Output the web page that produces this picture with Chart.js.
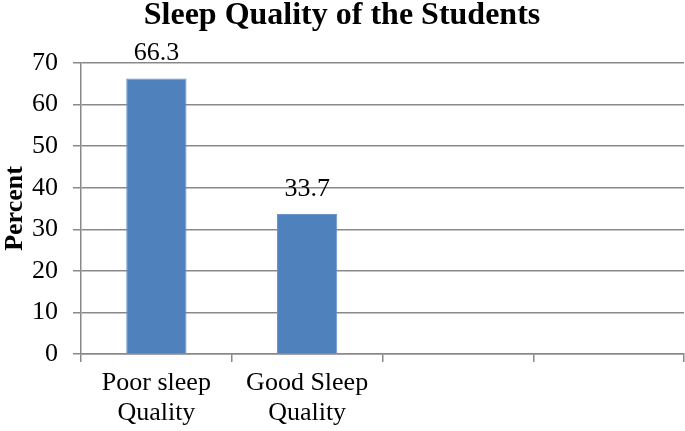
<!DOCTYPE html>
<html>
<head>
<meta charset="utf-8">
<title>Sleep Quality of the Students</title>
<script src="https://cdn.jsdelivr.net/npm/chart.js@4.4.1/dist/chart.umd.min.js"></script>
<style>
    body { margin: 0; background: #fff; }
    #wrap { width: 685px; height: 431px; }
</style>
</head>
<body>
<div id="wrap"><canvas id="sleepChart"></canvas></div>
<script>
const categories = [["Poor sleep", "Quality"], ["Good Sleep", "Quality"], "", ""];
const percents = [66.3, 33.7, null, null];
const valueLabels = ["66.3", "33.7", "", ""];
const yTicks = [0, 10, 20, 30, 40, 50, 60, 70];

const serif = "'Liberation Serif', 'Times New Roman', serif";
const gridGray = "#898989";

// writes the value above each bar
const barValues = {
    id: "barValues",
    afterDatasetsDraw(chart) {
        const ctx = chart.ctx;
        const meta = chart.getDatasetMeta(0);
        ctx.save();
        ctx.font = "26px " + serif;
        ctx.fillStyle = "#000";
        ctx.textAlign = "center";
        ctx.textBaseline = "alphabetic";
        meta.data.forEach((bar, i) => {
            if (!valueLabels[i]) return;
            ctx.fillText(valueLabels[i], bar.x, bar.y - 18);
        });
        ctx.restore();
    }
};

function drawChart() {
    const ctx = document.getElementById("sleepChart");
    new Chart(ctx, {
        type: "bar",
        data: {
            labels: categories,
            datasets: [{
                data: percents,
                backgroundColor: "#4F81BD",
                borderColor: "#6A95CB",
                borderWidth: 1,
                barPercentage: 0.4,
                categoryPercentage: 1.0
            }]
        },
        options: {
            responsive: true,
            maintainAspectRatio: false,
            animation: false,
            devicePixelRatio: 1,
            layout: {padding: {left: 0, right: 1, top: 0, bottom: 0}},
            plugins: {
                legend: {display: false},
                tooltip: {enabled: false},
                title: {
                    display: true,
                    text: "Sleep Quality of the Students",
                    color: "#000",
                    font: {family: serif, size: 32, weight: "bold", lineHeight: 1.0},
                    padding: {top: 0, bottom: 31}
                }
            },
            scales: {
                x: {
                    grid: {
                        display: true,
                        offset: true,
                        drawOnChartArea: false,
                        drawTicks: true,
                        tickLength: 8,
                        color: gridGray,
                        lineWidth: 1.5
                    },
                    border: {color: gridGray, width: 1.5},
                    ticks: {
                        color: "#000",
                        padding: 6,
                        maxRotation: 0,
                        autoSkip: false,
                        font: {family: serif, size: 26, lineHeight: 1.17}
                    },
                    afterFit(scale) { scale.height = 77; }
                },
                y: {
                    min: 0,
                    max: 70,
                    afterBuildTicks(scale) {
                        scale.ticks = yTicks.map(v => ({value: v}));
                    },
                    grid: {
                        color: gridGray,
                        lineWidth: 1.5,
                        tickLength: 8
                    },
                    border: {color: gridGray, width: 1.5},
                    ticks: {
                        color: "#000",
                        padding: 15,
                        font: {family: serif, size: 26}
                    },
                    title: {
                        display: true,
                        text: "Percent",
                        color: "#000",
                        padding: 0,
                        font: {family: serif, size: 26, weight: "bold", lineHeight: 1.2}
                    },
                    afterFit(scale) { scale.width = 81; }
                }
            }
        },
        plugins: [barValues]
    });
}

drawChart();
</script>
</body>
</html>
